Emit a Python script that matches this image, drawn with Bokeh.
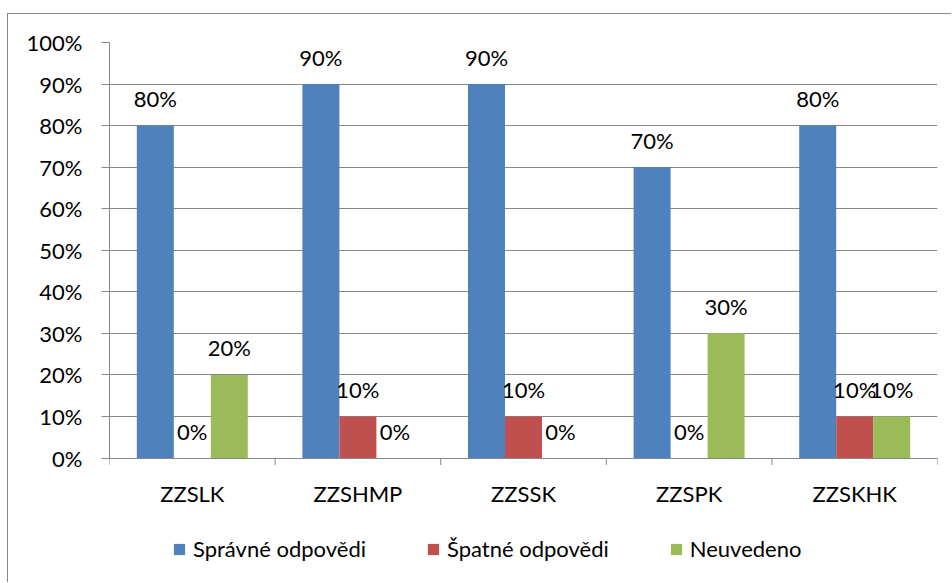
import numpy as np
from bokeh.plotting import figure
from bokeh.models import (ColumnDataSource, Range1d, LinearAxis,
                          FixedTicker, NumeralTickFormatter, Legend, LegendItem)
from bokeh.core.properties import value
from bokeh.embed import file_html
from bokeh.resources import INLINE

categories = ["ZZSLK", "ZZSHMP", "ZZSSK", "ZZSPK", "ZZSKHK"]
spravne = [0.8, 0.9, 0.9, 0.7, 0.8]
spatne = [0.0, 0.1, 0.1, 0.0, 0.1]
neuvedeno = [0.2, 0.0, 0.0, 0.3, 0.1]
series_names = ["Správné odpovědi", "Špatné odpovědi", "Neuvedeno"]
y_ticks = [0.0, 0.1, 0.2, 0.3, 0.4, 0.5, 0.6, 0.7, 0.8, 0.9, 1.0]

colors = ["#4F81BD", "#C0504D", "#9BBB59"]
FONT = "Lato"
FS = "22px"
GRAY = "#878787"

n = len(categories)
centers = np.arange(n) + 0.5
edges = list(range(n + 1))
bw = 0.2234
offsets = [-bw, 0.0, bw]
series = [spravne, spatne, neuvedeno]

src = ColumnDataSource(dict(cat=categories, xc=centers, y0=[0.0] * n))
for i in range(3):
    src.data[f"x{i}"] = centers + offsets[i]
    src.data[f"s{i}"] = series[i]
    src.data[f"l{i}"] = [f"{v:.0%}" for v in series[i]]
edge_src = ColumnDataSource(dict(x=edges, y=[0.0] * len(edges)))

# the frame extends down to the bottom so the legend can sit inside it
p = figure(width=944, height=569, x_range=Range1d(0, n), y_range=Range1d(-0.302, 1),
           output_backend="svg", toolbar_location=None, x_axis_location=None,
           y_axis_location=None,
           min_border_left=101, min_border_right=15, min_border_top=28, min_border_bottom=0)
p.styles = {"border-top": f"1px solid {GRAY}", "border-left": f"1px solid {GRAY}",
            "margin-top": "13px", "margin-left": "7px"}
p.outline_line_color = None
p.xgrid.grid_line_color = None
p.ygrid.grid_line_color = GRAY
p.ygrid.ticker = FixedTicker(ticks=y_ticks)

# y axis
yax = LinearAxis(ticker=FixedTicker(ticks=y_ticks), formatter=NumeralTickFormatter(format="0%"),
                 bounds=(0, 1))
yax.axis_line_color = GRAY
yax.major_tick_line_color = GRAY
yax.major_tick_out = 8
yax.major_tick_in = 0
yax.minor_tick_line_color = None
yax.major_label_standoff = 19
yax.major_label_text_font = FONT
yax.major_label_text_font_size = FS
yax.major_label_text_color = "black"
p.add_layout(yax, "left")

# category axis at 0%: boundary tick marks and centred category labels
p.ray(x="x", y="y", length=7, length_units="screen", angle=-np.pi / 2,
      source=edge_src, line_color=GRAY, line_width=1)
p.text(x="xc", y="y0", text="cat", source=src, text_align="center", text_baseline="middle",
       y_offset=35, text_font=value(FONT), text_font_size=FS, text_color="black")

renderers = []
for i in range(3):
    r = p.vbar(x=f"x{i}", top=f"s{i}", width=bw,
               source=src, fill_color=colors[i], line_color=None)
    renderers.append(r)
    p.text(x=f"x{i}", y=f"s{i}", text=f"l{i}", source=src,
           text_align="center", text_baseline="middle", y_offset=-27,
           text_font=value(FONT), text_font_size=FS, text_color="black")

legend = Legend(items=[LegendItem(label=series_names[i], renderers=[renderers[i]]) for i in range(3)],
                orientation="horizontal", location=(63, 21),
                glyph_width=14, glyph_height=14, label_standoff=7, spacing=60,
                padding=0, margin=0, border_line_color=None, background_fill_alpha=0,
                label_text_font=FONT, label_text_font_size=FS, label_text_color="black")
p.add_layout(legend, "center")

open("out.html", "w").write(file_html(p, INLINE))
